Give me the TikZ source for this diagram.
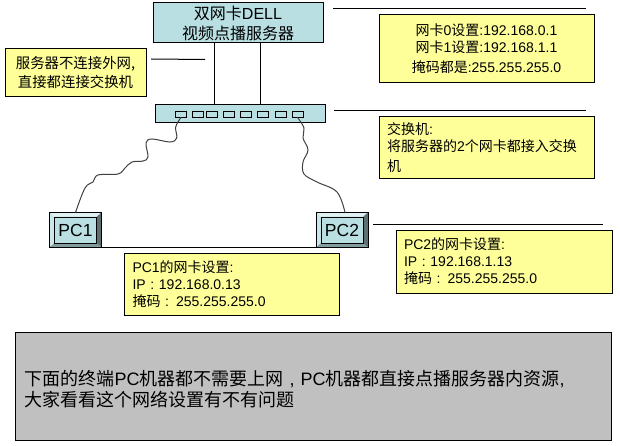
\documentclass[tikz,border=0pt]{standalone}
\usepackage{fontspec}
\setmainfont{Liberation Sans}
\newfontfamily\cjk{Noto Sans CJK SC}
\newcommand{\zh}[1]{{\cjk #1}}
\definecolor{teal1}{HTML}{B9DFE3}
\definecolor{note1}{HTML}{FFFF99}
\definecolor{gray1}{HTML}{C0C0C0}
\tikzset{
    box/.style={draw=black,line width=1pt,inner sep=0pt,fill=teal1,font=\fontsize{16}{20}\selectfont,align=center},
    port/.style={draw=black,line width=0.8pt,inner sep=0pt,fill=teal1,minimum width=11pt,minimum height=6pt},
    note/.style={draw=black,line width=1pt,inner sep=0pt,fill=note1,font=\fontsize{14}{17}\selectfont},
    cable/.style={draw=black!75,line width=1pt},
    rule/.style={black,line width=1pt},
    face/.style={inner sep=0pt,fill=teal1,draw=black,line width=0.6pt,minimum width=42pt,minimum height=26pt,font=\fontsize{17.5}{18}\selectfont},
    pcbody/.style={inner sep=0pt,fill=teal1,draw=black,line width=1pt,minimum width=51pt,minimum height=34pt}
}
\begin{document}
\begin{tikzpicture}[x=1pt,y=-1pt]
    \useasboundingbox (0,0) rectangle (620,446);

    % server
    \node[box,minimum width=170pt,minimum height=40pt] (server) at (238,23) {\zh{双网卡}DELL\\\zh{视频点播服务器}};
    \node[box,minimum width=170pt,minimum height=18pt] (switch) at (240,114) {};
    \draw[rule] (server.south -| 214.5,0) -- (switch.north -| 214.5,0);
    \draw[rule] (server.south -| 260.5,0) -- (switch.north -| 260.5,0);

    % ports
    \foreach \i/\x in {1/181,2/197.5,3/212,4/229,5/246,6/263,7/280.5,8/297.5}
        \node[port] (port\i) at (\x,114) {};

    % notes
    \node[note,minimum width=141pt,minimum height=48pt,align=center,font=\fontsize{14.4}{19}\selectfont] (outer) at (75.5,73) {\zh{服务器不连接外网,}\\\zh{直接都连接交换机}};
    \node[note,minimum width=215pt,minimum height=68pt,align=center] (nic) at (486.5,49) {\zh{网卡}0\zh{设置}:192.168.0.1\\\zh{网卡}1\zh{设置}:192.168.1.1\\[3pt]\zh{掩码都是}:255.255.255.0};
    \node[note,minimum width=215pt,minimum height=62pt,text width=199pt,align=left] (swnote) at (486.5,148) {\zh{交换机}:\\\zh{将服务器的}2\zh{个网卡都接入交换}\\[3pt]\zh{机}};
    \node[note,minimum width=215pt,minimum height=62pt,text width=198pt,align=left] (pc1note) at (231.5,284) {PC1\zh{的网卡设置}:\\IP : 192.168.0.13\\\zh{掩码} : 255.255.255.0};
    \node[note,minimum width=216pt,minimum height=63pt,text width=200pt,align=left] (pc2note) at (504,261.5) {PC2\zh{的网卡设置}:\\IP : 192.168.1.13\\\zh{掩码} : 255.255.255.0};
    \node[draw=black,line width=1pt,inner sep=0pt,fill=gray1,minimum width=596pt,minimum height=108pt,text width=578pt,align=left,font=\fontsize{18}{21}\selectfont] (question) at (313.5,386) {\rule{0pt}{21pt}\zh{下面的终端}PC\zh{机器都不需要上网} , PC\zh{机器都直接点播服务器内资源},\\\zh{大家看看这个网络设置有不有问题}};

    % PC
    \node[pcbody] (pc1) at (75.5,230) {};
    \node[pcbody] (pc2) at (342,230) {};
    \foreach \n in {pc1,pc2}{
        \node[face] (\n face) at (\n) {};
        \fill[teal1!45!white] (\n.north west) -- (\n.north east) -- (\n face.north east) -- (\n face.north west) -- cycle;
        \fill[teal1!75!white] (\n.north west) -- (\n.south west) -- (\n face.south west) -- (\n face.north west) -- cycle;
        \fill[teal1!50!black] (\n.north east) -- (\n.south east) -- (\n face.south east) -- (\n face.north east) -- cycle;
        \fill[teal1!70!black] (\n.south west) -- (\n.south east) -- (\n face.south east) -- (\n face.south west) -- cycle;
        \draw[black,line width=1pt] (\n.north west) rectangle (\n.south east);
    }
    \node[face] (pc1label) at (pc1) {PC1};
    \node[face] (pc2label) at (pc2) {PC2};
    \draw[rule] (pc1.south east) -- (pc2.south west);

    % cables
    \draw[cable] plot[smooth,tension=0.6] coordinates {(port1.south) (175.7,127) (176.7,138) (170,142) (152,139) (146,143) (148,157) (143,161) (132,162) (125,168) (118,174) (98,175) (93,182) (85,188) (pc1.north)};
    \draw[cable] plot[smooth,tension=0.6] coordinates {(port8.south) (304,128) (303,138) (308,150) (303,162) (304,174) (317,182) (337,192) ([xshift=3pt]pc2.north)};

    % rules
    \coordinate (ruleA1) at (151,59);
    \coordinate (ruleA2) at (205,59.5);
    \coordinate (ruleB1) at (333,9);
    \coordinate (ruleB2) at (586,9);
    \coordinate (ruleC1) at (334,111);
    \coordinate (ruleC2) at (586,111);
    \coordinate (ruleD1) at (373,224);
    \coordinate (ruleD2) at (603,224);
    \draw[rule] (ruleA1) -- (ruleA2);
    \draw[rule] (ruleB1) -- (ruleB2);
    \draw[rule] (ruleC1) -- (ruleC2);
    \draw[rule] (ruleD1) -- (ruleD2);
\end{tikzpicture}
\end{document}
